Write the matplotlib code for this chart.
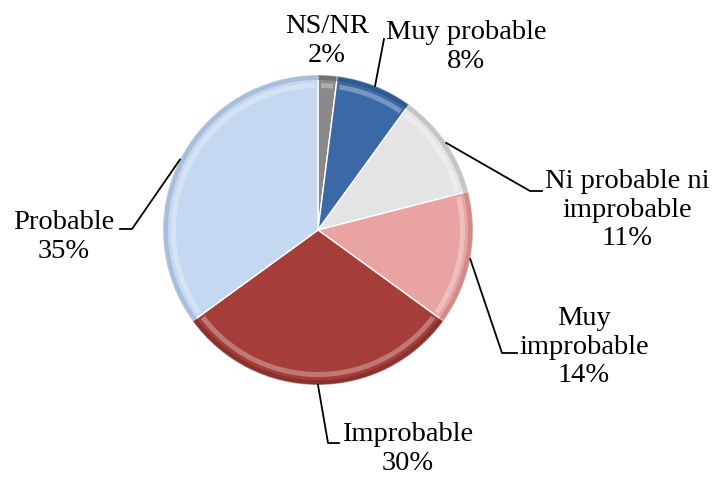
import numpy as np
import matplotlib.pyplot as plt
from matplotlib.patches import Wedge

plt.rcParams['font.family'] = ['Liberation Serif', 'DejaVu Serif']

# Data
labels = ['NS/NR', 'Muy probable', 'Ni probable ni\nimprobable', 'Muy\nimprobable', 'Improbable', 'Probable']
values = [2, 8, 11, 14, 30, 35]
colors = ['#8a8a8a', '#3a69a6', '#e4e4e4', '#e9a3a2', '#a53e38', '#c4d8f1']
edge_dark = ['#5a5a5a', '#254a7a', '#a8a8a8', '#b87372', '#6e2622', '#8ea6c4']

# label block centres (pixel coords, y down) and leader elbows
label_pos = [(327, 41), (466, 47), (627, 210), (584, 347), (408, 449), (64, 237)]
leader = [None,
          [(384, 39)],
          [(530, 191), (542, 191)],
          [(502, 353), (517, 353)],
          [(328, 443), (339, 443)],
          [(132, 229), (120, 229)]]

W, H = 712, 479
fig = plt.figure(figsize=(W / 100, H / 100), dpi=100)
ax = fig.add_axes([0, 0, 1, 1])

cx, cy, r = 318, H - 230, 155

wedges, _ = ax.pie(values, colors=colors, startangle=90, counterclock=False,
                   center=(cx, cy), radius=r, frame=True,
                   wedgeprops=dict(edgecolor='white', linewidth=1.0))
ax.set_xlim(0, W)
ax.set_ylim(0, H)
ax.set_aspect('equal')
ax.axis('off')

# bevel look: darker rim and light inner highlight
for w, dc in zip(wedges, edge_dark):
    ax.add_patch(Wedge((cx, cy), r, w.theta1, w.theta2, width=5,
                       facecolor=dc, edgecolor='none', alpha=0.5, zorder=3))
    ax.add_patch(Wedge((cx, cy), r - 8, w.theta1 + 1.2, w.theta2 - 1.2, width=5,
                       facecolor='white', edgecolor='none', alpha=0.3, zorder=3))

for w, lab, v, pos, ld in zip(wedges, labels, values, label_pos, leader):
    ax.text(pos[0], H - pos[1], f'{lab}\n{v}%', ha='center', va='center',
            fontsize=20.5, linespacing=1.2, zorder=5)
    if ld is None:
        continue
    mid = np.deg2rad((w.theta1 + w.theta2) / 2)
    pts = [(cx + r * np.cos(mid), cy + r * np.sin(mid))] + [(x, H - y) for x, y in ld]
    xs, ys = zip(*pts)
    ax.plot(xs, ys, color='black', lw=1.3, zorder=4)

fig.savefig('out.png', dpi=100)
